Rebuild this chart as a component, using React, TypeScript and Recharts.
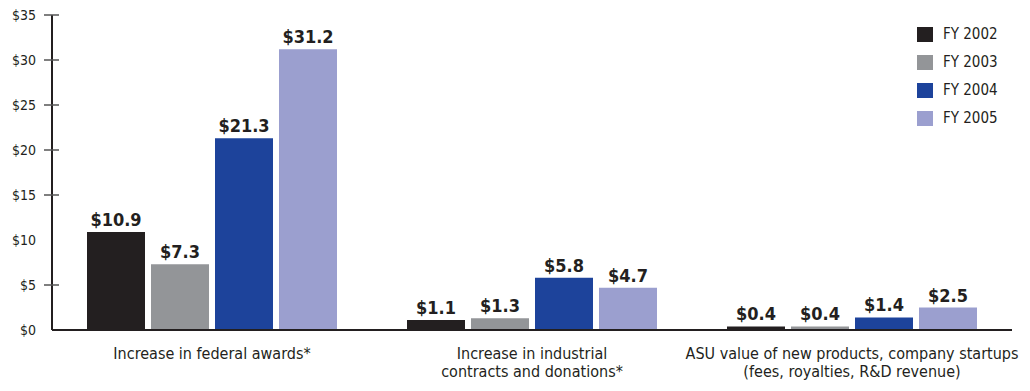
import React from 'react';
import { BarChart, Bar, XAxis, YAxis, LabelList } from 'recharts';

const categories = [
  ['Increase in federal awards*'],
  ['Increase in industrial', 'contracts and donations*'],
  ['ASU value of new products, company startups', '(fees, royalties, R&D revenue)'],
];
const fy2002 = [10.9, 1.1, 0.4];
const fy2003 = [7.3, 1.3, 0.4];
const fy2004 = [21.3, 5.8, 1.4];
const fy2005 = [31.2, 4.7, 2.5];
const yTicks = [0, 5, 10, 15, 20, 25, 30, 35];

const seriesNames = ['FY 2002', 'FY 2003', 'FY 2004', 'FY 2005'];
const seriesKeys = ['fy2002', 'fy2003', 'fy2004', 'fy2005'];
const colors = ['#231f20', '#939598', '#1d439b', '#9b9fcf'];

const data = categories.map((lines, i) => ({
  name: lines.join(' '),
  fy2002: fy2002[i],
  fy2003: fy2003[i],
  fy2004: fy2004[i],
  fy2005: fy2005[i],
}));

const FONT = '"Liberation Sans Narrow", "DejaVu Sans Condensed", "Roboto", sans-serif';

const YTick = (props: any) => {
  const { x, y, payload } = props;
  return (
    <g>
      <text x={x - 8} y={y} dy={5} textAnchor="end" fontFamily={FONT} fontSize={14} fill="#231f20">
        ${payload.value}
      </text>
      {payload.value > 0 && payload.value !== 10 && (
        <line x1={x} x2={x + 15} y1={y} y2={y} stroke="#555" strokeWidth={1.5} />
      )}
    </g>
  );
};

const XTick = (props: any) => {
  const { x, y, payload, index } = props;
  const lines = categories[index] || [payload.value];
  return (
    <text x={x} y={y} textAnchor="middle" fontFamily={FONT} fontSize={16} fill="#231f20">
      {lines.map((l: string, i: number) => (
        <tspan key={i} x={x} dy={i === 0 ? 21 : 18}>{l}</tspan>
      ))}
    </text>
  );
};

const ChartLegend = () => (
  <div style={{ position: 'absolute', top: 20, left: 917, fontFamily: FONT, fontSize: 15, color: '#231f20' }}>
    {seriesNames.map((n, i) => (
      <div key={n} style={{ display: 'flex', alignItems: 'center', height: 28 }}>
        <span style={{ width: 16, height: 15, background: colors[i], display: 'inline-block', marginRight: 10 }} />
        {n}
      </div>
    ))}
  </div>
);

export default function App() {
  return (
    <div style={{ position: 'relative', width: 1030, height: 391, background: '#fff', overflow: 'hidden' }}>
      <style>{`body{margin:0}`}</style>
      <BarChart
        width={1030}
        height={391}
        data={data}
        margin={{ top: 15, right: 18, left: 0, bottom: 0 }}
        barCategoryGap={35}
        barGap={6}
      >
        <XAxis
          dataKey="name"
          axisLine={{ stroke: '#231f20', strokeWidth: 2 }}
          tickLine={false}
          tick={<XTick />}
          interval={0}
          height={61}
        />
        <YAxis
          domain={[0, 35]}
          ticks={yTicks}
          width={52}
          axisLine={{ stroke: '#231f20', strokeWidth: 2 }}
          tickLine={false}
          tick={<YTick />}
          interval={0}
        />
        {seriesKeys.map((k, i) => (
          <Bar key={k} dataKey={k} name={seriesNames[i]} fill={colors[i]} isAnimationActive={false}>
            <LabelList
              dataKey={k}
              position="top"
              offset={6}
              formatter={(v: any) => `$${v}`}
              style={{ fontFamily: FONT, fontSize: 18, fontWeight: 700, fill: '#231f20' }}
            />
          </Bar>
        ))}
      </BarChart>
      <ChartLegend />
    </div>
  );
}
